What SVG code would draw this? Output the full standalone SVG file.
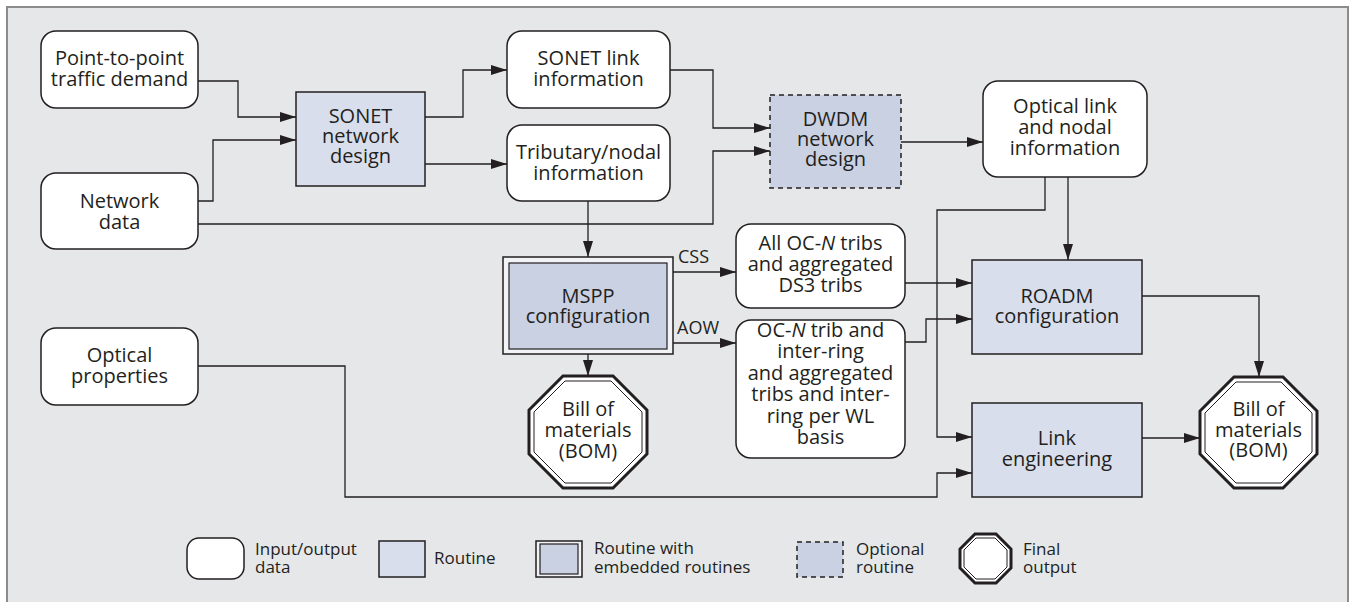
<svg xmlns="http://www.w3.org/2000/svg" width="1351" height="602" viewBox="0 0 1351 602">
  <defs>
    <marker id="arrow" markerUnits="userSpaceOnUse" markerWidth="17" markerHeight="12" refX="16" refY="5" orient="auto">
      <path d="M0,0 L16,5 L0,10 z" fill="#231f20"/>
    </marker>
    <style>
      text { font-family: "Open Sans", "Noto Sans", "Liberation Sans", sans-serif; fill: #231f20; }
      .t { font-size: 20px; text-anchor: middle; }
      .lbl { font-size: 18px; }
      .leg { font-size: 17px; }
      .io { fill: #ffffff; stroke: #231f20; stroke-width: 1.5; }
      .rt { fill: #d9deec; stroke: #231f20; stroke-width: 1.5; }
      .opt { fill: #c9d1e3; stroke: #231f20; stroke-width: 1.5; stroke-dasharray: 5 4; }
      .emb-out { fill: #f2f3f6; stroke: #231f20; stroke-width: 1.5; }
      .emb-in { fill: #c9d1e3; stroke: #231f20; stroke-width: 1.2; }
      .oct-out { fill: #ffffff; stroke: #231f20; stroke-width: 3; }
      .oct-in { fill: none; stroke: #231f20; stroke-width: 1; }
      .conn path { fill: none; stroke: #231f20; stroke-width: 1.3; marker-end: url(#arrow); }
    </style>
  </defs>

  <!-- panel -->
  <rect x="7" y="7" width="1341" height="600" fill="#e6e7e9" stroke="#8c8c8c" stroke-width="2"/>

  <!-- connectors -->
  <g id="connectors" class="conn">
    <path d="M198,81 H238 V117 H296"/>
    <path d="M198,201 H213 V140 H296"/>
    <path d="M198,224 H713 V151 H770"/>
    <path d="M425,117 H463 V70 H507"/>
    <path d="M425,164 H507"/>
    <path d="M670,70 H713 V128 H770"/>
    <path d="M901,142 H983"/>
    <path d="M588,201 V257"/>
    <path d="M588,354 V376"/>
    <path d="M673,272 H736"/>
    <path d="M673,343 H736"/>
    <path d="M1045,177 V210 H937 V437 H972"/>
    <path d="M1068,177 V260"/>
    <path d="M905,283 H972"/>
    <path d="M905,342 H926 V319 H972"/>
    <path d="M198,366 H345 V497 H937 V473 H972"/>
    <path d="M1142,296 H1259 V377"/>
    <path d="M1142,438 H1200"/>
  </g>
  <g id="connector-labels">
    <text class="lbl" x="678" y="263">CSS</text>
    <text class="lbl" x="677" y="334">AOW</text>
  </g>

  <!-- input/output data -->
  <g id="p2p">
    <rect class="io" x="41" y="31" width="157" height="77" rx="15"/>
    <text class="t" x="119.5" y="65">Point-to-point<tspan x="119.5" dy="21">traffic demand</tspan></text>
  </g>
  <g id="network-data">
    <rect class="io" x="41" y="173" width="157" height="76" rx="15"/>
    <text class="t" x="119.5" y="208">Network<tspan x="119.5" dy="21">data</tspan></text>
  </g>
  <g id="optical-properties">
    <rect class="io" x="41" y="328" width="157" height="77" rx="15"/>
    <text class="t" x="119.5" y="362">Optical<tspan x="119.5" dy="21">properties</tspan></text>
  </g>
  <g id="sonet-link">
    <rect class="io" x="507" y="31" width="163" height="77" rx="15"/>
    <text class="t" x="588.5" y="65">SONET link<tspan x="588.5" dy="21">information</tspan></text>
  </g>
  <g id="tributary">
    <rect class="io" x="507" y="125" width="163" height="76" rx="15"/>
    <text class="t" x="588.5" y="159">Tributary/nodal<tspan x="588.5" dy="21">information</tspan></text>
  </g>
  <g id="optical-link">
    <rect class="io" x="983" y="81" width="164" height="96" rx="15"/>
    <text class="t" x="1065" y="113">Optical link<tspan x="1065" dy="21">and nodal</tspan><tspan x="1065" dy="21">information</tspan></text>
  </g>
  <g id="all-ocn">
    <rect class="io" x="736" y="224" width="169" height="84" rx="15"/>
    <text class="t" x="820.5" y="250">All OC-<tspan font-style="italic">N</tspan> tribs<tspan x="820.5" dy="21">and aggregated</tspan><tspan x="820.5" dy="21">DS3 tribs</tspan></text>
  </g>
  <g id="ocn-trib">
    <rect class="io" x="736" y="320" width="169" height="138" rx="15"/>
    <text class="t" x="820.5" y="337">OC-<tspan font-style="italic">N</tspan> trib and<tspan x="820.5" dy="21.4">inter-ring</tspan><tspan x="820.5" dy="21.4">and aggregated</tspan><tspan x="820.5" dy="21.4">tribs and inter-</tspan><tspan x="820.5" dy="21.4">ring per WL</tspan><tspan x="820.5" dy="21.4">basis</tspan></text>
  </g>

  <!-- routines -->
  <g id="sonet-design">
    <rect class="rt" x="296" y="92" width="129" height="94"/>
    <text class="t" x="360.5" y="123">SONET<tspan x="360.5" dy="20">network</tspan><tspan x="360.5" dy="20">design</tspan></text>
  </g>
  <g id="dwdm-design">
    <rect class="opt" x="770" y="95" width="131" height="93"/>
    <text class="t" x="835.5" y="126">DWDM<tspan x="835.5" dy="20">network</tspan><tspan x="835.5" dy="20">design</tspan></text>
  </g>
  <g id="mspp">
    <rect class="emb-out" x="503" y="257" width="170" height="97"/>
    <rect class="emb-in" x="509" y="263" width="158" height="86"/>
    <text class="t" x="588" y="303">MSPP<tspan x="588" dy="20">configuration</tspan></text>
  </g>
  <g id="roadm">
    <rect class="rt" x="972" y="260" width="170" height="94"/>
    <text class="t" x="1057" y="303">ROADM<tspan x="1057" dy="20">configuration</tspan></text>
  </g>
  <g id="link-eng">
    <rect class="rt" x="972" y="403" width="170" height="94"/>
    <text class="t" x="1057" y="445">Link<tspan x="1057" dy="21">engineering</tspan></text>
  </g>

  <!-- final outputs -->
  <g id="bom-mspp">
    <polygon class="oct-out" points="563,376 613,376 647,410 647,454 613,488 563,488 529,454 529,410"/>
    <polygon class="oct-in" points="565,381 611,381 642,412 642,452 611,483 565,483 534,452 534,412"/>
    <text class="t" x="588" y="416">Bill of<tspan x="588" dy="21">materials</tspan><tspan x="588" dy="21">(BOM)</tspan></text>
  </g>
  <g id="bom-final">
    <polygon class="oct-out" points="1234,377 1283,377 1317,411 1317,454 1283,488 1234,488 1200,454 1200,411"/>
    <polygon class="oct-in" points="1236,382 1281,382 1312,413 1312,452 1281,483 1236,483 1205,452 1205,413"/>
    <text class="t" x="1258.5" y="416">Bill of<tspan x="1258.5" dy="21">materials</tspan><tspan x="1258.5" dy="20">(BOM)</tspan></text>
  </g>

  <!-- legend -->
  <g id="legend">
    <rect class="io" x="187" y="538" width="57" height="41" rx="12"/>
    <text class="leg" x="255" y="555">Input/output<tspan x="255" dy="18">data</tspan></text>

    <rect class="rt" x="379" y="541" width="46" height="36"/>
    <text class="leg" x="434" y="564">Routine</text>

    <rect class="emb-out" x="536" y="541" width="46" height="36"/>
    <rect class="emb-in" x="540" y="544" width="38" height="30"/>
    <text class="leg" x="594" y="554">Routine with<tspan x="594" dy="19">embedded routines</tspan></text>

    <rect class="opt" x="797" y="542" width="46" height="35"/>
    <text class="leg" x="856" y="555">Optional<tspan x="856" dy="18">routine</tspan></text>

    <polygon class="oct-out" points="975,534 996,534 1011,549 1011,568 996,583 975,583 960,568 960,549"/>
    <polygon class="oct-in" points="976,538 995,538 1007,550 1007,567 995,579 976,579 964,567 964,550"/>
    <text class="leg" x="1023" y="555">Final<tspan x="1023" dy="18">output</tspan></text>
  </g>
</svg>
